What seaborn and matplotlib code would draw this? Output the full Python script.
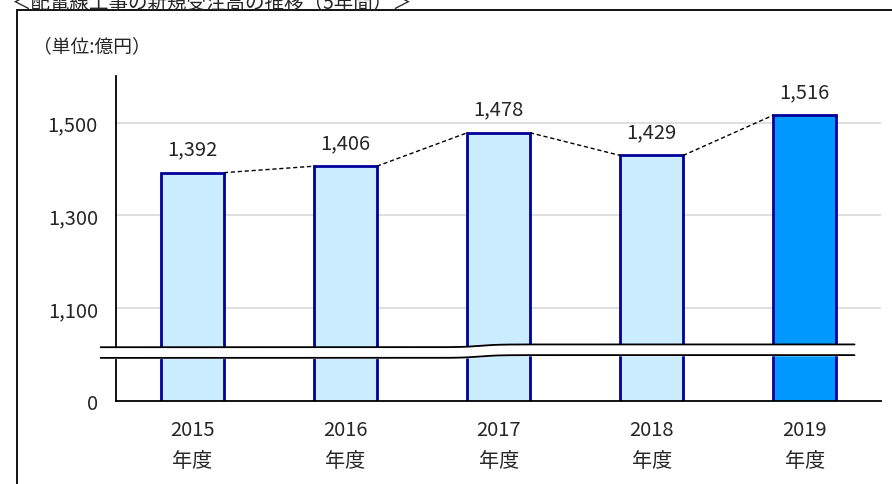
import numpy as np
import matplotlib
matplotlib.use("Agg")
import matplotlib.pyplot as plt
import matplotlib.patches as mpatches
import seaborn as sns

# data
years = ["2015", "2016", "2017", "2018", "2019"]
values = [1392, 1406, 1478, 1429, 1516]
bar_colors = ["#CCECFF", "#CCECFF", "#CCECFF", "#CCECFF", "#0099FF"]
y_ticks = [900, 1100, 1300, 1500]
y_tick_labels = ["0", "1,100", "1,300", "1,500"]
title = "＜配電線工事の新規受注高の推移（5年間）＞"
unit_label = "（単位:億円）"

sns.set_style("white")
plt.rcParams["font.family"] = ["Noto Sans CJK JP", "DejaVu Sans"]

fig = plt.figure(figsize=(8.92, 4.85), dpi=100)
ax = fig.add_axes([0.130, 0.171, 0.858, 0.670])

bw = 0.41
sns.barplot(x=years, y=values, hue=years, palette=bar_colors, legend=False,
            saturation=1, width=bw, edgecolor="#000099", linewidth=2.0,
            ax=ax, zorder=3)

ax.set_xlim(-0.5, 4.5)
ax.set_ylim(900, 1600)

# dashed connectors between bar tops
for i in range(len(values) - 1):
    ax.plot([i + bw / 2, i + 1 - bw / 2], [values[i], values[i + 1]],
            ls="--", color="black", lw=1.0, dashes=(3, 2), zorder=4)

# value labels
for i, v in enumerate(values):
    ax.annotate(f"{v:,}", (i, v), xytext=(0, 17), textcoords="offset points",
                ha="center", va="center", fontsize=14.5)

# grid
for y in y_ticks[1:]:
    ax.axhline(y, color="#D9D9D9", lw=1.2, zorder=1)

ax.set_yticks(y_ticks)
ax.set_yticklabels(y_tick_labels, fontsize=14.5)
ax.set_xticks(range(len(years)))
ax.set_xticklabels([f"{y}\n年度" for y in years], fontsize=14.5, linespacing=1.6)
ax.set_xticks(np.arange(0.5, 5, 1), minor=True)
ax.tick_params(axis="x", which="major", length=0, pad=13)
ax.tick_params(axis="x", which="minor", length=5, direction="in", width=1.2, color="black")
ax.tick_params(axis="y", length=6, direction="in", width=1.2, color="black", pad=13)
ax.set_xlabel("")
ax.set_ylabel("")

for side in ["top", "right"]:
    ax.spines[side].set_visible(False)
for side in ["left", "bottom"]:
    ax.spines[side].set_color("black")
    ax.spines[side].set_linewidth(1.3)
    ax.spines[side].set_zorder(5)

# axis break band
xs = np.linspace(-0.02, 0.965, 200)
step = 1 / (1 + np.exp(-(xs - 0.476) / 0.012))
upper = 1016 + 6 * step
lower = 993 + 6 * step
trans = ax.get_yaxis_transform()
ax.fill_between(xs, lower, upper, color="white", transform=trans, zorder=6, clip_on=False)
ax.plot(xs, upper, color="black", lw=1.3, transform=trans, zorder=7, clip_on=False)
ax.plot(xs, lower, color="black", lw=1.3, transform=trans, zorder=7, clip_on=False)

# outer frame and texts
frame = mpatches.Rectangle((17 / 892, -0.1), 1.2, 1 - 10.5 / 485 + 0.1,
                           transform=fig.transFigure, fill=False,
                           edgecolor="black", lw=1.3, clip_on=False)
fig.patches.append(frame)
fig.text(33 / 892, 1 - 47 / 485, unit_label, fontsize=13.5, ha="left", va="center")
fig.text(212 / 892, 1 - 14 / 485, title, fontsize=14, ha="center", va="bottom")

fig.savefig("out.png", dpi=100)
